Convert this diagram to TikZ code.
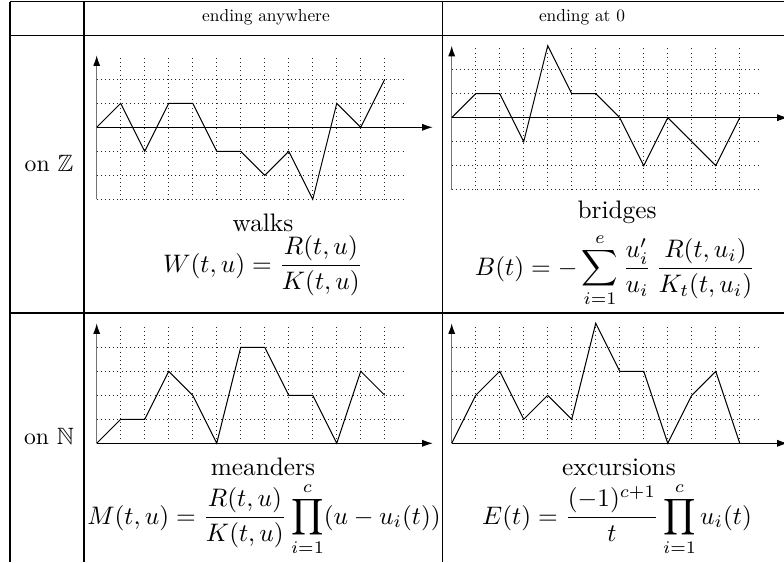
\documentclass[tikz,border=0pt]{standalone}
\usepackage{amsmath,amssymb}
\usetikzlibrary{arrows.meta}
\tikzset{
  rule/.style={line width=0.6pt},
  gridl/.style={dotted, line width=0.45pt, black!85},
  pathl/.style={line width=0.6pt, line join=miter},
  xax/.style={line width=0.6pt, -{Latex[length=6.3pt,width=4.2pt]}},
  yax/.style={line width=0.7pt, black!55, -{Latex[length=6.3pt,width=4.2pt,color=black]}},
  big/.style={inner sep=0pt, scale=1.5, transform shape},
  side/.style={inner sep=0pt, scale=1.4, transform shape},
  hdr/.style={inner sep=0pt},
}
\begin{document}
\begin{tikzpicture}[x=0.0208333cm, y=-0.0208333cm]
\useasboundingbox (0,0) rectangle (784,562);
% table rules
\draw[rule] (10,1.5) -- (784,1.5);
\draw[rule] (10,35.5) -- (784,35.5);
\draw[rule] (10,313) -- (784,313);
\draw[rule] (10,1.5) -- (10,562);
\draw[rule] (84,1.5) -- (84,562);
\draw[rule] (442.5,1.5) -- (442.5,562);
% headers
\node[hdr] (h1) at (266,17) {\scalebox{1.03}{ending anywhere}};
\node[hdr] (h2) at (582,17) {\scalebox{1.03}{ending at $0$}};
\node[side] (rz) at (49,163) {on $\mathbb{Z}$};
\node[side] (rn) at (49,436) {on $\mathbb{N}$};
% walks
\begin{scope}[shift={(96.7,127.3)}, x=0.5cm, y=0.5cm]
\foreach \i in {1,...,12} \draw[gridl] (\i,-3) -- (\i,2.95);
\foreach \j in {-3,-2,-1,1,2} \draw[gridl] (0,\j) -- (12.8,\j);
\draw[xax] (0,0) -- (14,0);
\draw[yax] (0,-3) -- (0,3);
\draw[pathl] (0,0) -- (1,1) -- (2,-1) -- (3,1) -- (4,1) -- (5,-1) -- (6,-1) -- (7,-2) -- (8,-1) -- (9,-3) -- (10,1) -- (11,0) -- (12,2);
\end{scope}
% bridges
\begin{scope}[shift={(451.7,117.7)}, x=0.5cm, y=0.5cm]
\foreach \i in {1,...,12} \draw[gridl] (\i,-3) -- (\i,2.95);
\foreach \j in {-3,-2,-1,1,2} \draw[gridl] (0,\j) -- (12.8,\j);
\draw[xax] (0,0) -- (14,0);
\draw[yax] (0,-3) -- (0,3);
\draw[pathl] (0,0) -- (1,1) -- (2,1) -- (3,-1) -- (4,3) -- (5,1) -- (6,1) -- (7,0) -- (8,-2) -- (9,0) -- (11,-2) -- (12,0);
\end{scope}
% meanders
\begin{scope}[shift={(96.7,443.3)}, x=0.5cm, y=0.5cm]
\foreach \i in {1,...,12} \draw[gridl] (\i,0) -- (\i,4.95);
\foreach \j in {1,2,3,4} \draw[gridl] (0,\j) -- (12.8,\j);
\draw[xax] (0,0) -- (14,0);
\draw[yax] (0,0) -- (0,5);
\draw[pathl] (0,0) -- (1,1) -- (2,1) -- (3,3) -- (4,2) -- (5,0) -- (6,4) -- (7,4) -- (8,2) -- (9,2) -- (10,0) -- (11,3) -- (12,2);
\end{scope}
% excursions
\begin{scope}[shift={(451.7,443.3)}, x=0.5cm, y=0.5cm]
\foreach \i in {1,...,12} \draw[gridl] (\i,0) -- (\i,4.95);
\foreach \j in {1,2,3,4} \draw[gridl] (0,\j) -- (12.8,\j);
\draw[xax] (0,0) -- (14,0);
\draw[yax] (0,0) -- (0,5);
\draw[pathl] (0,0) -- (1,2) -- (2,3) -- (3,1) -- (4,2) -- (5,1) -- (6,5) -- (7,3) -- (8,3) -- (9,0) -- (10,2) -- (11,3) -- (12,0);
\end{scope}
% labels and formulas
\node[big] (lw) at (263,223) {walks};
\node[big, anchor=base] (fw) at (263,272) {$\displaystyle W(t,u)=\frac{R(t,u)}{K(t,u)}$};
\node[big] (lb) at (617,212) {bridges};
\node[big, anchor=base] (fb) at (615,275) {$\displaystyle B(t)=-\sum_{i=1}^{e}\frac{u_i'}{u_i}\,\frac{R(t,u_i)}{K_t(t,u_i)}$};
\node[big] (lm) at (263,467) {meanders};
\node[big, anchor=base] (fm) at (264,524) {$\displaystyle M(t,u)=\frac{R(t,u)}{K(t,u)}\prod_{i=1}^{c}(u-u_i(t))$};
\node[big] (le) at (619,467) {excursions};
\node[big, anchor=base] (fe) at (617,524) {$\displaystyle E(t)=\frac{(-1)^{c+1}}{t}\prod_{i=1}^{c}u_i(t)$};
\end{tikzpicture}
\end{document}
